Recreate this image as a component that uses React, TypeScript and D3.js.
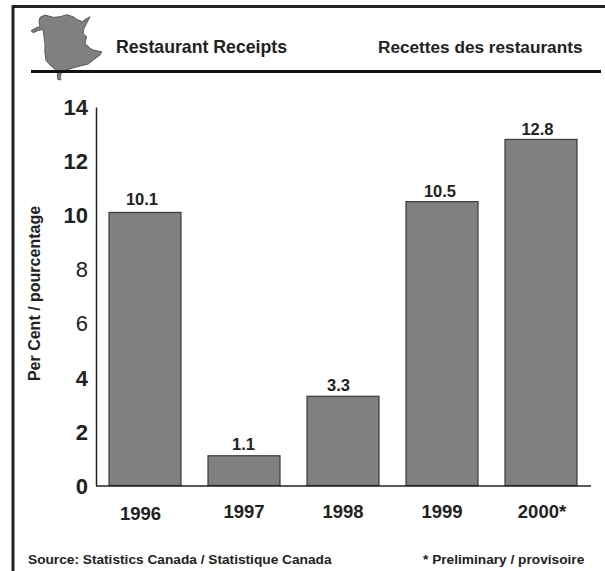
import { useEffect, useRef } from 'react';
import * as d3 from 'd3';

const years = ['1996', '1997', '1998', '1999', '2000*'];
const receipts = [10.1, 1.1, 3.3, 10.5, 12.8];
const yTicks = [0, 2, 4, 6, 8, 10, 12, 14];
const lightTicks = [6, 8];

// New Brunswick outline, traced by hand
const provinceOutline =
  'M31,30.7L35,28.3L40,26.5L39,21.7L40,17.3L45,15L53.3,17.3L60,16.7L66.7,14.7L73.3,16.7L76.7,19.3L82.3,21.7L84.3,20L90,16.7L86.7,23.3L83.3,30L83.3,34L86.7,36.7L85,43.3L90,48.3L93,50L101.7,51.7L100,55L93.3,60L88.3,64L75,67.3L61.7,71.7L60,78L61,80L57.7,79.3L57.3,73.3L55,69.3L50,65L46,60.5L44.8,52L45,44L44,37L43,29.5L38,30.5L33.3,32.7Z';

const INK = '#222222';
const FONT = '"Liberation Sans", Arial, sans-serif';

export default function App() {
  const svgRef = useRef<SVGSVGElement | null>(null);

  useEffect(() => {
    if (!svgRef.current) return;
    const svg = d3.select(svgRef.current);
    svg.selectAll('*').remove();
    svg.attr('font-family', FONT);

    const x = d3
      .scaleBand()
      .domain(years)
      .range([95.5, 590.5])
      .paddingInner(0.2727)
      .paddingOuter(0.1364);
    const y = d3.scaleLinear().domain([0, 14]).range([485.5, 107]);

    // Frame (open on the right and bottom)
    svg
      .append('path')
      .attr('d', 'M605,6.5H13V571')
      .attr('fill', 'none')
      .attr('stroke', INK)
      .attr('stroke-width', 3);

    // Header
    svg
      .append('path')
      .attr('d', provinceOutline)
      .attr('fill', '#808080')
      .attr('stroke', '#444')
      .attr('stroke-width', 0.8);
    svg
      .append('line')
      .attr('x1', 31)
      .attr('x2', 601)
      .attr('y1', 71.5)
      .attr('y2', 71.5)
      .attr('stroke', '#111')
      .attr('stroke-width', 3);

    const headerText = (label: string, xPos: number, size: number) =>
      svg
        .append('text')
        .attr('x', xPos)
        .attr('y', 53)
        .attr('font-size', size)
        .attr('font-weight', 700)
        .attr('fill', INK)
        .text(label);
    headerText('Restaurant Receipts', 116, 17.7);
    headerText('Recettes des restaurants', 378, 17.2);

    // Bars
    svg
      .append('g')
      .selectAll('rect')
      .data(receipts)
      .join('rect')
      .attr('x', (_, i) => x(years[i])!)
      .attr('y', (d) => y(d))
      .attr('width', x.bandwidth())
      .attr('height', (d) => y(0) - y(d))
      .attr('fill', '#808080')
      .attr('stroke', '#3a3a3a')
      .attr('stroke-width', 1.2);

    // Value labels sit a little off-centre in the original
    const labelDx = [-3, -0.5, -4.5, -2, -3.5];
    const labelDy = [-7, -6, -5.5, -5, -4];
    svg
      .append('g')
      .selectAll('text')
      .data(receipts)
      .join('text')
      .attr('x', (_, i) => x(years[i])! + x.bandwidth() / 2 + labelDx[i])
      .attr('y', (d, i) => y(d) + labelDy[i])
      .attr('text-anchor', 'middle')
      .attr('font-size', 16.5)
      .attr('font-weight', 700)
      .attr('fill', INK)
      .text((d) => d.toFixed(1));

    // Axes
    const yAxis = svg
      .append('g')
      .attr('transform', 'translate(96,0)')
      .call(
        d3
          .axisLeft(y)
          .tickValues(yTicks)
          .tickSize(0)
          .tickPadding(8)
          .tickFormat((d) => String(d))
      );
    yAxis.select('.domain').attr('stroke', INK).attr('stroke-width', 1.5);
    yAxis
      .selectAll<SVGTextElement, number>('text')
      .attr('font-family', FONT)
      .attr('font-size', 22)
      .attr('font-weight', (d) => (lightTicks.includes(d) ? 400 : 700))
      .attr('fill', INK)
      .attr('dy', '0.35em');

    const xAxis = svg
      .append('g')
      .attr('transform', 'translate(0,485.5)')
      .call(d3.axisBottom(x).tickSize(0).tickPadding(19));
    xAxis.select('.domain').attr('stroke', INK).attr('stroke-width', 1.5);
    xAxis
      .selectAll<SVGTextElement, string>('text')
      .attr('font-family', FONT)
      .attr('font-size', 18.5)
      .attr('font-weight', 700)
      .attr('fill', INK)
      .attr('dx', (d) => (d === '1996' ? -4.5 : d === '2000*' ? 1 : 0))
      .attr('dy', (d) => (d === '1996' ? '0.82em' : '0.71em'));

    // Y-axis label
    svg
      .append('text')
      .attr('transform', 'rotate(-90)')
      .attr('x', -293.5)
      .attr('y', 40)
      .attr('text-anchor', 'middle')
      .attr('font-size', 16)
      .attr('font-weight', 700)
      .attr('fill', INK)
      .text('Per Cent / pourcentage');

    // Footnotes
    const footnote = (label: string, xPos: number) =>
      svg
        .append('text')
        .attr('x', xPos)
        .attr('y', 564)
        .attr('font-size', 13.7)
        .attr('font-weight', 700)
        .attr('fill', INK)
        .text(label);
    footnote('Source: Statistics Canada / Statistique Canada', 28);
    footnote('* Preliminary / provisoire', 423);
  }, []);

  return (
    <svg
      ref={svgRef}
      width={605}
      height={571}
      style={{ position: 'absolute', left: 0, top: 0, background: '#fff' }}
    />
  );
}
